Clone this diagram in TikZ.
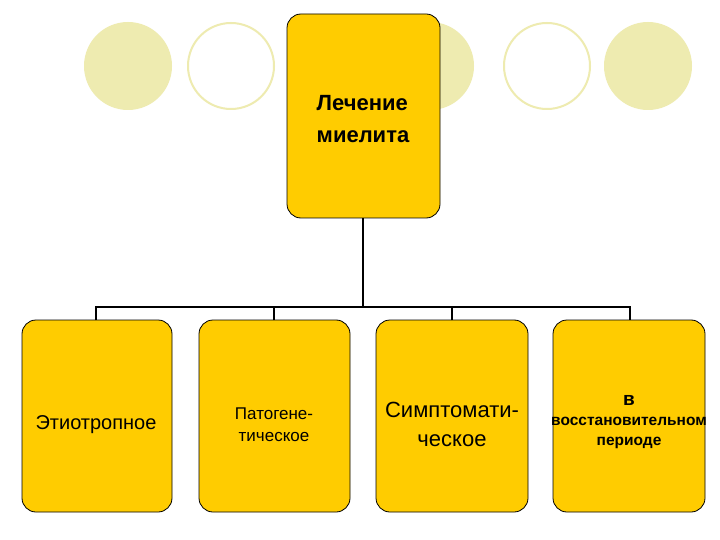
\documentclass[tikz,border=0pt]{standalone}
\usepackage{fontspec}
\setmainfont{Liberation Sans}
\definecolor{gold}{HTML}{FFCC00}
\definecolor{pale}{HTML}{EEEBB0}
\begin{document}
\begin{tikzpicture}[x=1pt,y=-1pt,
  box/.style={draw=black,line width=0.8pt,fill=gold,rounded corners=14pt},
  conn/.style={line width=1.8pt,black}]
\useasboundingbox (0,0) rectangle (720,540);
\fill[white] (0,0) rectangle (720,540);
\fill[pale] (128,66) circle (44);
\draw[pale,line width=2pt] (231,66) circle (43);
\fill[pale] (430,66) circle (44);
\draw[pale,line width=2pt] (547,66) circle (43);
\fill[pale] (648,66) circle (44);
\draw[box] (287,14) rectangle (440,218);
\node[align=left,font=\bfseries\fontsize{22}{32}\selectfont] (top) at (363,119) {Лечение\\миелита};
\coordinate (tb) at (363,218);
\coordinate (j) at (363,307);
\draw[box] (22,320) rectangle (172,512);
\draw[box] (199,320) rectangle (350,512);
\draw[box] (376,320) rectangle (528,512);
\draw[box] (553,320) rectangle (705,512);
\coordinate (a) at (96,320); \coordinate (b) at (274,320);
\coordinate (c) at (452,320); \coordinate (d) at (630,320);
\draw[conn] (tb) -- (j);
\draw[conn] (a) -- (96,307) -- (630,307) -- (d);
\draw[conn] (b) -- (274,307);
\draw[conn] (c) -- (452,307);
\node[font=\fontsize{20}{24}\selectfont] (n1) at (96,425) {Этиотропное};
\node[align=center,font=\fontsize{17}{22}\selectfont] (n2) at (274,425) {Патогене-\\тическое};
\node[align=center,font=\fontsize{22}{29}\selectfont] (n3) at (452,424) {Симптомати-\\ческое};
\node[align=center,font=\bfseries\fontsize{15.5}{20}\selectfont] (n4) at (629,422) {{\fontsize{19}{20}\selectfont в}\\восстановительном\\периоде};
\end{tikzpicture}
\end{document}
